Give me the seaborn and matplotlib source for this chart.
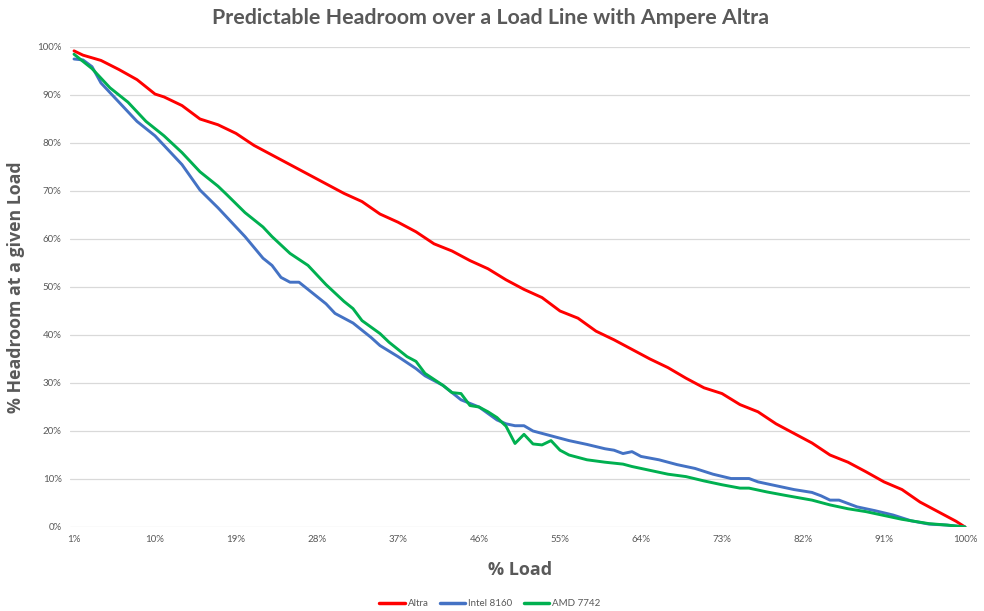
import matplotlib
matplotlib.use("Agg")
import matplotlib.pyplot as plt
import seaborn as sns
import pandas as pd

# Data (% Load -> % Headroom)
altra_load = [1, 2, 4, 6, 8, 10, 11, 13, 15, 17, 19, 21, 23, 25, 27, 29, 31, 33, 35, 37, 39,
              41, 43, 45, 47, 49, 51, 53, 55, 57, 59, 61, 63, 65, 67, 69, 71, 73, 75, 77, 79,
              81, 83, 85, 87, 89, 91, 93, 95, 97, 99, 100]
altra_val = [99.2, 98.3, 97.2, 95.3, 93.2, 90.2, 89.6, 87.8, 85.0, 83.8, 82.0, 79.5, 77.5, 75.5,
             73.5, 71.5, 69.5, 67.8, 65.2, 63.5, 61.5, 59.0, 57.5, 55.5, 53.8, 51.5, 49.5, 47.8,
             45.0, 43.5, 40.8, 39.0, 37.0, 35.0, 33.2, 31.0, 29.0, 27.8, 25.5, 24.0, 21.5, 19.5,
             17.5, 15.0, 13.5, 11.5, 9.4, 7.8, 5.2, 3.2, 1.2, 0.0]

intel_load = [1, 2, 3, 4, 5, 6, 7, 8, 10, 12, 13, 15, 17, 19, 20, 22, 23, 24, 25, 26, 27, 28,
              29, 30, 32, 34, 35, 37, 39, 40, 42, 43, 44, 46, 48, 49, 50, 51, 52, 54, 56, 58,
              60, 61, 62, 63, 64, 66, 68, 70, 72, 74, 76, 77, 79, 81, 83, 84, 85, 86, 88, 90,
              92, 94, 96, 98, 100]
intel_val = [97.5, 97.3, 95.9, 92.5, 90.5, 88.5, 86.5, 84.5, 81.5, 77.5, 75.5, 70.2, 66.5, 62.5,
             60.5, 56.0, 54.5, 52.0, 51.0, 51.0, 49.5, 48.0, 46.5, 44.5, 42.5, 39.5, 37.8, 35.5,
             33.0, 31.5, 29.5, 28.0, 26.5, 25.0, 22.3, 21.5, 21.1, 21.1, 20.0, 19.0, 18.0, 17.2,
             16.3, 16.0, 15.3, 15.7, 14.7, 14.0, 13.0, 12.2, 11.0, 10.1, 10.1, 9.4, 8.6, 7.8,
             7.2, 6.5, 5.6, 5.6, 4.2, 3.4, 2.5, 1.3, 0.6, 0.4, 0.0]

amd_load = [1, 2, 3, 4, 5, 7, 9, 11, 13, 15, 17, 18, 20, 22, 23, 25, 27, 29, 31, 32, 33, 35,
            36, 38, 39, 40, 42, 43, 44, 45, 46, 47, 48, 49, 50, 51, 52, 53, 54, 55, 56, 58,
            60, 62, 63, 65, 67, 69, 71, 73, 75, 76, 78, 80, 83, 85, 87, 89, 91, 93, 95, 96,
            98, 100]
amd_val = [98.5, 97.0, 95.5, 93.5, 91.5, 88.5, 84.5, 81.5, 78.0, 74.0, 71.0, 69.2, 65.5, 62.5,
           60.5, 57.0, 54.5, 50.5, 47.0, 45.5, 43.0, 40.3, 38.5, 35.5, 34.5, 32.0, 29.5, 28.0,
           27.8, 25.3, 25.0, 24.0, 22.8, 21.0, 17.4, 19.3, 17.3, 17.1, 18.0, 16.0, 15.0, 14.0,
           13.5, 13.1, 12.6, 11.8, 11.0, 10.5, 9.6, 8.8, 8.1, 8.1, 7.3, 6.6, 5.6, 4.6, 3.8,
           3.2, 2.4, 1.6, 1.0, 0.7, 0.4, 0.0]

series_names = ["Altra", "Intel 8160", "AMD 7742"]
series_colors = ["#FF0000", "#4472C4", "#00B050"]
x_ticks = [1, 10, 19, 28, 37, 46, 55, 64, 73, 82, 91, 100]
y_ticks = [0, 10, 20, 30, 40, 50, 60, 70, 80, 90, 100]

df = pd.concat([
    pd.DataFrame({"load": altra_load, "headroom": altra_val, "series": series_names[0]}),
    pd.DataFrame({"load": intel_load, "headroom": intel_val, "series": series_names[1]}),
    pd.DataFrame({"load": amd_load, "headroom": amd_val, "series": series_names[2]}),
], ignore_index=True)

sns.set_theme(style="white")
plt.rcParams["font.family"] = ["Lato", "DejaVu Sans"]

fig = plt.figure(figsize=(9.84, 6.11), dpi=100)
ax = fig.add_axes([70 / 984, (611 - 527) / 611, 900 / 984, 480 / 611])

sns.lineplot(data=df, x="load", y="headroom", hue="series", hue_order=series_names,
             palette=dict(zip(series_names, series_colors)), linewidth=2.1, ax=ax,
             legend=False, sort=True, estimator=None)

ax.set_xlim(1 - 4 / 9, 100 + 5 / 9)
ax.set_ylim(0, 100)
ax.set_xticks(x_ticks)
ax.set_xticklabels([f"{t}%" for t in x_ticks])
ax.set_yticks(y_ticks)
ax.set_yticklabels([f"{t}%" for t in y_ticks])
ax.tick_params(axis="both", labelsize=7, colors="#595959", length=0, pad=6)
ax.yaxis.grid(True, color="#D9D9D9", linewidth=0.9)
ax.xaxis.grid(False)
ax.set_axisbelow(True)
for s in ax.spines.values():
    s.set_visible(False)

ax.set_xlabel("% Load", fontsize=13, fontweight="bold", color="#595959", labelpad=12,
              family=["Open Sans", "DejaVu Sans"])
ax.set_ylabel("% Headroom at a given Load", fontsize=12.8, fontweight="bold", color="#595959",
              labelpad=9, family=["Open Sans", "DejaVu Sans"])
fig.text(490 / 984, 1 - 18 / 611, "Predictable Headroom over a Load Line with Ampere Altra",
         ha="center", va="center", fontsize=15.4, fontweight="bold", color="#595959")

handles = [plt.Line2D([], [], color=c, linewidth=2.5) for c in series_colors]
fig.legend(handles, series_names, loc="center", bbox_to_anchor=(490 / 984, 1 - 604 / 611),
           ncol=3, frameon=False, fontsize=7, handlelength=2.6, columnspacing=1.2,
           handletextpad=0.3, labelcolor="#595959")

fig.savefig("out.png", dpi=100, facecolor="white")
